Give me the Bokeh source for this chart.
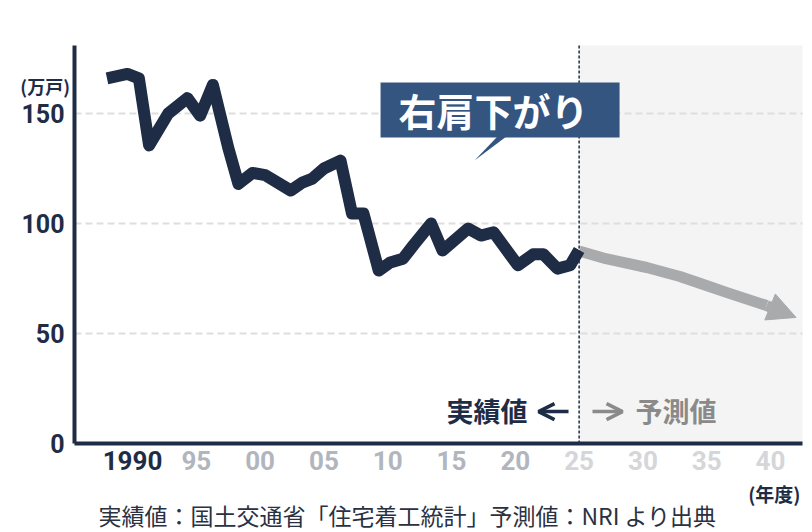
from bokeh.plotting import figure
from bokeh.models import (Range1d, FixedTicker, BoxAnnotation, Label, LinearAxis,
                          Arrow, NormalHead, OpenHead, PolyAnnotation)
from bokeh.embed import file_html
from bokeh.resources import INLINE

# ---- data (万戸, fiscal year) ----
actual_years = [1988.0, 1989.6, 1990.5, 1991.3, 1992.8, 1994.3, 1995.3, 1996.3, 1997.5,
                1998.3, 1999.4, 2000.4, 2002.4, 2003.3, 2004.1, 2005.0, 2006.3, 2007.2,
                2008.1, 2009.3, 2010.2, 2011.2, 2012.0, 2013.4, 2014.3, 2016.3, 2017.3,
                2018.3, 2020.2, 2021.4, 2022.2, 2023.3, 2024.3, 2025.0]
actual_starts = [166, 168, 166, 135.5, 150, 157, 149, 163, 134.5,
                 118, 123, 122, 115, 118.6, 120.4, 125, 128.6, 104.5,
                 104.5, 78.6, 82.3, 84, 90, 100, 87.7, 97.7, 94.5,
                 96, 81, 86, 86, 79.5, 81, 88]

forecast_years = [2025.0, 2027.1, 2030.3, 2032.9, 2035.2, 2036.6, 2039.7]
forecast_starts = [87.5, 84.0, 80.0, 75.9, 71.4, 68.6, 62.7]
forecast_tip_year = 2042.0
forecast_tip_value = 57.3

split_year = 2025
y_ticks = [0, 50, 100, 150]
grid_ticks = [50, 100, 150]
x_tick_years = [1990, 1995, 2000, 2005, 2010, 2015, 2020, 2025, 2030, 2035, 2040]
x_tick_labels = ["1990", "95", "00", "05", "10", "15", "20", "25", "30", "35", "40"]

unit_y_text = "(万戸)"
unit_x_text = "(年度)"
callout_text = "右肩下がり"
actual_text = "実績値"
forecast_text = "予測値"
source_text = "実績値：国土交通省「住宅着工統計」予測値：NRI より出典"

# ---- styles ----
NAVY = "#1e2c45"
GRAY_LINE = "#a9aaac"
TICK_GRAY = "#b1b6be"
TICK_LIGHT = "#d4d6d9"
FORECAST_TXT = "#8a8a8a"
CALLOUT = "#34557f"
JP = "Noto Sans CJK JP"
NUM = "Roboto"

# plotting area (data units) and full canvas extent
X0, X1 = 1985.455, 2042.51
Y0, Y1 = 0.0, 180.9
CX0, CX1 = 1979.655, 2043.29
CY0, CY1 = -40.45, 201.36

p = figure(width=812, height=532, output_backend="svg", toolbar_location=None,
           x_range=Range1d(CX0, CX1), y_range=Range1d(CY0, CY1),
           x_axis_location=None, y_axis_location=None,
           min_border=0, min_border_left=0, min_border_right=0,
           min_border_top=0, min_border_bottom=0)
p.outline_line_color = None
p.background_fill_color = "white"
p.border_fill_color = "white"
p.xgrid.visible = False
p.ygrid.visible = False


def make_axis(ticks, labels, color, size, standoff, font, loc, line=False, bounds=None,
              style="bold"):
    ax = LinearAxis(ticker=FixedTicker(ticks=ticks), fixed_location=loc,
                    major_label_overrides=dict(zip(ticks, labels)),
                    axis_line_color=NAVY if line else None, axis_line_width=4,
                    major_tick_line_color=None, minor_tick_line_color=None,
                    major_tick_out=0, major_tick_in=0,
                    major_label_standoff=standoff, major_label_text_color=color,
                    major_label_text_font=font, major_label_text_font_size=size,
                    major_label_text_font_style=style)
    if bounds is not None:
        ax.bounds = bounds
    return ax


# forecast shaded region
p.add_layout(BoxAnnotation(left=split_year, right=X1, bottom=Y0, top=Y1,
                           fill_color="#f4f4f4", fill_alpha=1.0, line_color=None,
                           level="image"))

# horizontal grid lines across the plotting area only
p.segment(x0=X0, y0=grid_ticks, x1=X1, y1=grid_ticks, line_color="#dedede",
          line_width=2, line_dash="7 4")

# forecast line + arrow
p.line(forecast_years, forecast_starts, line_color=GRAY_LINE, line_width=11,
       line_join="round")
p.add_layout(Arrow(end=NormalHead(size=28, fill_color=GRAY_LINE, line_color=GRAY_LINE),
                   x_start=forecast_years[-1], y_start=forecast_starts[-1],
                   x_end=forecast_tip_year, y_end=forecast_tip_value,
                   line_color=GRAY_LINE, line_width=11))

# actual line
p.line(actual_years, actual_starts, line_color=NAVY, line_width=12, line_join="round")

# split line (actual | forecast)
p.segment(x0=[split_year], y0=[Y0], x1=[split_year], y1=[Y1], line_color=NAVY,
          line_width=1.5, line_dash="3 2")

# axes
p.add_layout(make_axis(y_ticks, [str(v) for v in y_ticks], NAVY, "25px", 10, NUM,
                       loc=X0, line=True, bounds=(Y0, Y1)), "left")
lab = dict(zip(x_tick_years, x_tick_labels))
groups = [
    ([y for y in x_tick_years if y == 1990], NAVY),
    ([y for y in x_tick_years if 1990 < y < split_year], TICK_GRAY),
    ([y for y in x_tick_years if y >= split_year], TICK_LIGHT),
]
first = True
for yrs, col in groups:
    p.add_layout(make_axis(yrs, [lab[y] for y in yrs], col, "26px", 7, NUM, loc=Y0,
                           line=first, bounds=(X0, X1)), "below")
    first = False

# callout
p.add_layout(BoxAnnotation(left=2009.44, right=2028.17, bottom=139.1, top=164.1,
                           fill_color=CALLOUT, fill_alpha=1.0, line_color=None))
p.add_layout(PolyAnnotation(xs=[2018.6, 2019.3, 2016.8], ys=[139.5, 139.5, 128.6],
                            fill_color=CALLOUT, fill_alpha=1.0, line_color=None))
p.add_layout(Label(x=2018.3, y=151.8, text=callout_text, text_color="white",
                   text_font=JP, text_font_style="bold", text_font_size="38px",
                   text_align="center", text_baseline="middle"))

# 実績値 ← | → 予測値
p.add_layout(Label(x=2020.96, y=15.0, text=actual_text, text_color=NAVY,
                   text_font=JP, text_font_style="bold", text_font_size="27px",
                   text_align="right", text_baseline="middle"))
p.add_layout(Arrow(end=OpenHead(size=16, line_color=NAVY, line_width=3.5),
                   x_start=2024.17, y_start=14.5, x_end=2021.82, y_end=14.5,
                   line_color=NAVY, line_width=3.5))
p.add_layout(Arrow(end=OpenHead(size=16, line_color=FORECAST_TXT, line_width=3.5),
                   x_start=2026.05, y_start=14.5, x_end=2028.40, y_end=14.5,
                   line_color=FORECAST_TXT, line_width=3.5))
p.add_layout(Label(x=2029.42, y=15.0, text=forecast_text, text_color=FORECAST_TXT,
                   text_font=JP, text_font_style="bold", text_font_size="27px",
                   text_align="left", text_baseline="middle"))

# unit labels and source
p.add_layout(Label(x=1985.1, y=162.7, text=unit_y_text, text_color=NAVY,
                   text_font=JP, text_font_style="bold", text_font_size="18px",
                   text_align="right", text_baseline="middle"))
p.add_layout(Label(x=2042.35, y=-22.7, text=unit_x_text, text_color=NAVY,
                   text_font=JP, text_font_style="bold", text_font_size="19px",
                   text_align="right", text_baseline="middle"))
p.add_layout(Label(x=2011.55, y=-32.4, text=source_text, text_color="#2a3142",
                   text_font=JP, text_font_size="23px",
                   text_align="center", text_baseline="middle"))

open("out.html", "w").write(file_html(p, INLINE))
